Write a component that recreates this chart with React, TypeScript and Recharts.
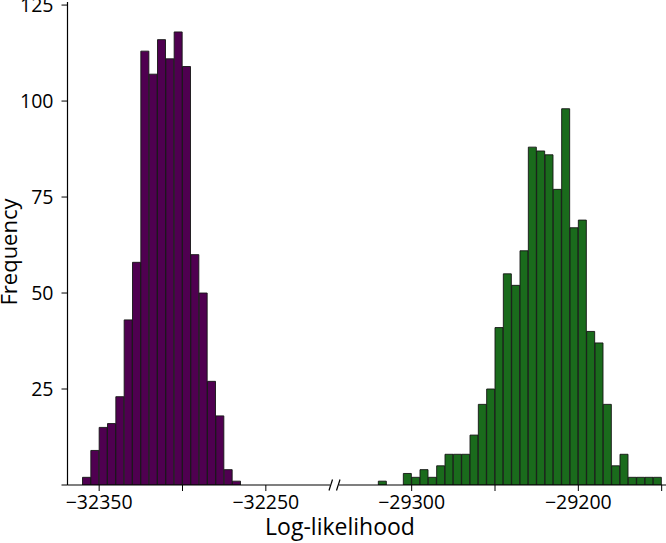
import React from 'react';
import { BarChart, Bar, XAxis, YAxis } from 'recharts';

// Histogram bins (centers) and counts
const LEFT_BIN_CENTERS = [
  -32357.5, -32352.5, -32347.5, -32342.5, -32337.5, -32332.5, -32327.5, -32322.5, -32317.5, -32312.5,
  -32307.5, -32302.5, -32297.5, -32292.5, -32287.5, -32282.5, -32277.5, -32272.5, -32267.5,
];
const LEFT_COUNTS = [2, 9, 15, 16, 23, 43, 58, 113, 107, 116, 111, 118, 109, 60, 50, 27, 18, 4, 1];

const RIGHT_BIN_CENTERS = [
  -29317.5, -29312.5, -29307.5, -29302.5, -29297.5, -29292.5, -29287.5, -29282.5, -29277.5, -29272.5,
  -29267.5, -29262.5, -29257.5, -29252.5, -29247.5, -29242.5, -29237.5, -29232.5, -29227.5, -29222.5,
  -29217.5, -29212.5, -29207.5, -29202.5, -29197.5, -29192.5, -29187.5, -29182.5, -29177.5, -29172.5,
  -29167.5, -29162.5, -29157.5, -29152.5,
];
const RIGHT_COUNTS = [
  1, 0, 0, 3, 2, 4, 2, 5, 8, 8, 8, 13, 21, 25, 41, 55, 52, 61, 88, 87, 86, 77, 98, 67, 69, 40, 37, 21, 5, 8, 2,
  2, 2, 2,
];

const LEFT_TICKS = [-32350, -32300, -32250];
const LEFT_LABELED = [-32350, -32250];
const RIGHT_TICKS = [-29300, -29250, -29200, -29150];
const RIGHT_LABELED = [-29300, -29200];
const Y_TICKS = [0, 25, 50, 75, 100, 125];

const LEFT_DOMAIN: [number, number] = [-32369, -32211.5];
const RIGHT_DOMAIN: [number, number] = [-29343.6, -29147.4];
const Y_DOMAIN: [number, number] = [0, 125.8];

const leftData = LEFT_BIN_CENTERS.map((x, i) => ({ x, count: LEFT_COUNTS[i] }));
const rightData = RIGHT_BIN_CENTERS.map((x, i) => ({ x, count: RIGHT_COUNTS[i] }));

const FONT = '"Open Sans", "Noto Sans", sans-serif';
const PURPLE = '#4f0050';
const GREEN = '#1a6b1c';

const fmtX = (labeled: number[]) => (v: number) =>
  labeled.includes(v) ? String(v).replace('-', '\u2212') : '';

const tickStyle = { fontSize: 19.5, fill: '#000', fontFamily: FONT };

export default function App() {
  return (
    <div style={{ position: 'absolute', left: 0, top: 0, width: 666, height: 543, background: '#fff' }}>
      <div style={{ position: 'absolute', left: 0, top: 0 }}>
        <BarChart
          width={330}
          height={543}
          data={leftData}
          margin={{ top: 2, right: 0, bottom: 28, left: 0.5 }}
          barCategoryGap={0}
          barGap={0}
        >
          <XAxis
            dataKey="x"
            type="number"
            domain={LEFT_DOMAIN}
            allowDataOverflow
            ticks={LEFT_TICKS}
            interval={0}
            tickFormatter={fmtX(LEFT_LABELED)}
            height={30}
            tickSize={6}
            tickMargin={4}
            tick={tickStyle}
            stroke="#000"
            axisLine={{ stroke: '#000', strokeWidth: 1.2 }}
            tickLine={{ stroke: '#000' }}
          />
          <YAxis
            type="number"
            domain={Y_DOMAIN}
            allowDataOverflow
            ticks={Y_TICKS}
            interval={0}
            tickFormatter={(v: number) => (v === 0 ? '' : String(v))}
            width={67}
            tickSize={6}
            tickMargin={8}
            tick={tickStyle}
            stroke="#000"
            axisLine={{ stroke: '#000', strokeWidth: 1.2 }}
            tickLine={{ stroke: '#000' }}
          />
          <Bar dataKey="count" fill={PURPLE} stroke="#151515" strokeWidth={0.9} isAnimationActive={false} />
        </BarChart>
      </div>
      <div style={{ position: 'absolute', left: 339, top: 0 }}>
        <BarChart
          width={327}
          height={543}
          data={rightData}
          margin={{ top: 2, right: 0, bottom: 28, left: 0 }}
          barCategoryGap={0}
          barGap={0}
        >
          <XAxis
            dataKey="x"
            type="number"
            domain={RIGHT_DOMAIN}
            allowDataOverflow
            ticks={RIGHT_TICKS}
            interval={0}
            tickFormatter={fmtX(RIGHT_LABELED)}
            height={30}
            tickSize={6}
            tickMargin={4}
            tick={tickStyle}
            stroke="#000"
            axisLine={{ stroke: '#000', strokeWidth: 1.2 }}
            tickLine={{ stroke: '#000' }}
          />
          <YAxis hide type="number" domain={Y_DOMAIN} allowDataOverflow />
          <Bar dataKey="count" fill={GREEN} stroke="#151515" strokeWidth={0.9} isAnimationActive={false} />
        </BarChart>
      </div>
      <svg
        width={666}
        height={543}
        style={{ position: 'absolute', left: 0, top: 0, pointerEvents: 'none' }}
      >
        <line x1={329} y1={490.5} x2={332.5} y2={479.5} stroke="#000" strokeWidth={1.2} />
        <line x1={336.5} y1={490.5} x2={340} y2={479.5} stroke="#000" strokeWidth={1.2} />
        <text x={340} y={535} textAnchor="middle" fontSize={23} fontFamily={FONT} fill="#000">
          Log-likelihood
        </text>
        <text
          x={17}
          y={252}
          textAnchor="middle"
          fontSize={22}
          fontFamily={FONT}
          fill="#000"
          transform="rotate(-90 17 252)"
        >
          Frequency
        </text>
      </svg>
    </div>
  );
}
